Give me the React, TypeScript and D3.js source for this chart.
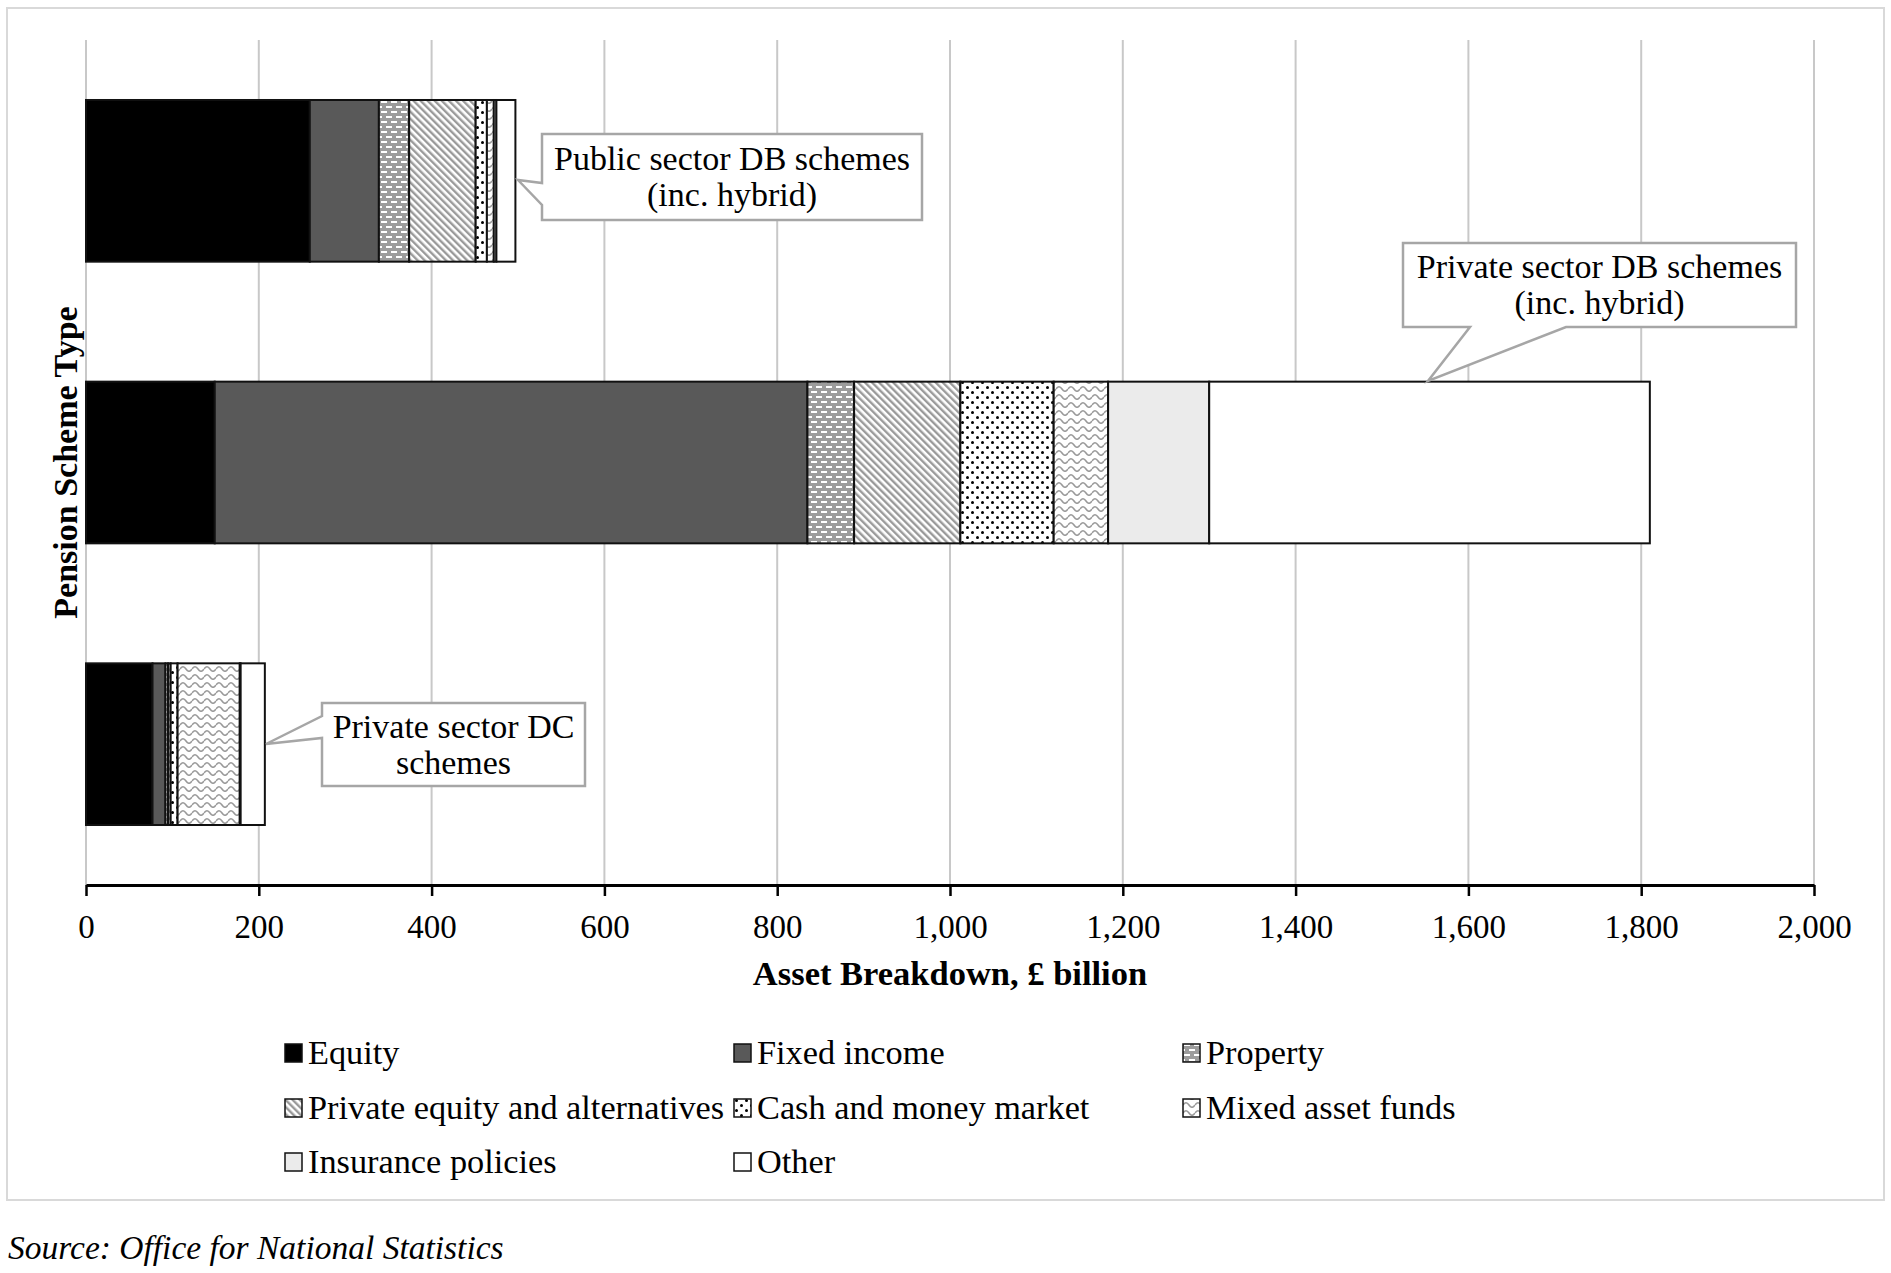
import React, { createRef, Component } from "react";
import * as d3 from "d3";

// Pension scheme asset breakdown, £ billion
const categories = [
  "Public sector DB schemes (inc. hybrid)",
  "Private sector DB schemes (inc. hybrid)",
  "Private sector DC schemes",
];
const assetClasses = [
  "Equity",
  "Fixed income",
  "Property",
  "Private equity and alternatives",
  "Cash and money market",
  "Mixed asset funds",
  "Insurance policies",
  "Other",
];
const equity = [259, 149, 77];
const fixedIncome = [80, 686, 15];
const property = [35, 54, 3];
const privateEquity = [77, 123, 3];
const cashMoney = [13, 108, 8];
const mixedFunds = [8, 63, 72];
const insurance = [3, 117, 1];
const other = [22, 510, 28];
const xTicks = [0, 200, 400, 600, 800, 1000, 1200, 1400, 1600, 1800, 2000];

const seriesValues = [equity, fixedIncome, property, privateEquity, cashMoney, mixedFunds, insurance, other];
const fills = [
  "#000000",
  "#595959",
  "url(#pat-property)",
  "url(#pat-pe)",
  "url(#pat-cash)",
  "url(#pat-mixed)",
  "#ebebeb",
  "#ffffff",
];

const W = 1891;
const H = 1273;
const FONT = "'Liberation Serif', 'Times New Roman', serif";

class App extends Component<{}, {}> {
  ref: any;

  constructor(props: any) {
    super(props);
    this.ref = createRef();
  }

  componentDidMount() {
    const svg = d3.select(this.ref.current);
    svg.selectAll("*").remove();

    const x = d3.scaleLinear().domain([0, 2000]).range([86, 1814]);
    const y = d3
      .scaleBand()
      .domain(categories)
      .range([40, 885])
      .paddingInner(0.426)
      .paddingOuter(0.213);

    // patterns
    const defs = svg.append("defs");
    const pProp = defs
      .append("pattern")
      .attr("id", "pat-property")
      .attr("patternUnits", "userSpaceOnUse")
      .attr("width", 10)
      .attr("height", 10);
    pProp.append("rect").attr("width", 10).attr("height", 10).attr("fill", "#9c9c9c");
    [[1, 1], [6, 6], [-4, 6]].forEach(([px, py]) => {
      pProp.append("rect").attr("x", px).attr("y", py).attr("width", 6).attr("height", 2).attr("fill", "#ffffff");
    });

    const pPe = defs
      .append("pattern")
      .attr("id", "pat-pe")
      .attr("patternUnits", "userSpaceOnUse")
      .attr("width", 5)
      .attr("height", 5)
      .attr("patternTransform", "rotate(-45)");
    pPe.append("rect").attr("width", 5).attr("height", 5).attr("fill", "#ffffff");
    pPe.append("rect").attr("width", 2.4).attr("height", 5).attr("fill", "#9a9a9a");

    const pCash = defs
      .append("pattern")
      .attr("id", "pat-cash")
      .attr("patternUnits", "userSpaceOnUse")
      .attr("width", 10)
      .attr("height", 10);
    pCash.append("rect").attr("width", 10).attr("height", 10).attr("fill", "#ffffff");
    pCash.append("circle").attr("cx", 2.5).attr("cy", 2.5).attr("r", 1.5).attr("fill", "#000");
    pCash.append("circle").attr("cx", 7.5).attr("cy", 7.5).attr("r", 1.5).attr("fill", "#000");

    const pMixed = defs
      .append("pattern")
      .attr("id", "pat-mixed")
      .attr("patternUnits", "userSpaceOnUse")
      .attr("width", 12)
      .attr("height", 8);
    pMixed.append("rect").attr("width", 12).attr("height", 8).attr("fill", "#ffffff");
    pMixed
      .append("path")
      .attr("d", "M0 5 Q3 0.5 6 5 T12 5")
      .attr("fill", "none")
      .attr("stroke", "#9a9a9a")
      .attr("stroke-width", 1.6);

    // outer frame
    svg
      .append("rect")
      .attr("x", 7)
      .attr("y", 8)
      .attr("width", 1877)
      .attr("height", 1192)
      .attr("fill", "#fff")
      .attr("stroke", "#d9d9d9")
      .attr("stroke-width", 2);

    // gridlines
    svg
      .append("g")
      .selectAll("line")
      .data(xTicks)
      .enter()
      .append("line")
      .attr("x1", (d) => x(d))
      .attr("x2", (d) => x(d))
      .attr("y1", 40)
      .attr("y2", 885)
      .attr("stroke", "#c8c8c8")
      .attr("stroke-width", 2);

    // stacked bars
    const rows = categories.map((c, i) => {
      const r: any = { category: c };
      assetClasses.forEach((a, j) => (r[a] = seriesValues[j][i]));
      return r;
    });
    const stacked = d3.stack().keys(assetClasses)(rows);
    const groups = svg
      .append("g")
      .selectAll("g.series")
      .data(stacked)
      .enter()
      .append("g")
      .attr("class", "series")
      .attr("fill", (d, i) => fills[i]);
    groups
      .selectAll("rect")
      .data((d: any) => d)
      .enter()
      .append("rect")
      .attr("x", (d: any) => x(d[0]))
      .attr("width", (d: any) => x(d[1]) - x(d[0]))
      .attr("y", (d: any) => y(d.data.category) as number)
      .attr("height", y.bandwidth())
      .attr("stroke", "#111")
      .attr("stroke-width", 2);

    // x axis
    const axis = svg
      .append("g")
      .attr("transform", "translate(0,885)")
      .call(
        d3
          .axisBottom(x)
          .tickValues(xTicks)
          .tickFormat(d3.format(",") as any)
          .tickSize(11)
          .tickSizeOuter(0)
      );
    axis.select(".domain").attr("stroke", "#000").attr("stroke-width", 3);
    axis.selectAll(".tick line").attr("stroke", "#000").attr("stroke-width", 2.5);
    axis
      .selectAll(".tick text")
      .attr("y", 30)
      .attr("fill", "#000")
      .style("font-family", FONT)
      .style("font-size", "33px");

    svg
      .append("text")
      .attr("x", (x(0) + x(2000)) / 2)
      .attr("y", 985)
      .attr("text-anchor", "middle")
      .style("font-family", FONT)
      .style("font-size", "34.5px")
      .style("font-weight", "bold")
      .text("Asset Breakdown, £ billion");

    svg
      .append("text")
      .attr("transform", `translate(77,${(40 + 885) / 2}) rotate(-90)`)
      .attr("text-anchor", "middle")
      .style("font-family", FONT)
      .style("font-size", "34px")
      .style("font-weight", "bold")
      .text("Pension Scheme Type");

    // callouts
    const callouts = [
      {
        lines: ["Public sector DB schemes", "(inc. hybrid)"],
        box: [542, 134, 922, 220],
        path: "M542,134 H922 V220 H542 V205 L518,180 L542,183 Z",
      },
      {
        lines: ["Private sector DB schemes", "(inc. hybrid)"],
        box: [1403, 243, 1796, 327],
        path: "M1403,243 H1796 V327 H1566 L1428,381 L1470,327 H1403 Z",
      },
      {
        lines: ["Private sector DC", "schemes"],
        box: [322, 703, 585, 786],
        path: "M322,703 H585 V786 H322 V738 L266,744 L322,716 Z",
      },
    ];
    const cg = svg.append("g").selectAll("g").data(callouts).enter().append("g");
    cg.append("path")
      .attr("d", (d) => d.path)
      .attr("fill", "#fff")
      .attr("stroke", "#a6a6a6")
      .attr("stroke-width", 2.5);
    cg.each(function (d) {
      const g = d3.select(this);
      const cx = (d.box[0] + d.box[2]) / 2;
      const cy = (d.box[1] + d.box[3]) / 2;
      d.lines.forEach((l, i) => {
        g.append("text")
          .attr("x", cx)
          .attr("y", cy - 18 + i * 36 + 11)
          .attr("text-anchor", "middle")
          .style("font-family", FONT)
          .style("font-size", "34px")
          .text(l);
      });
    });

    // legend
    const legCols = [285, 734, 1183];
    const legRows = [1053, 1108, 1162];
    const leg = svg
      .append("g")
      .selectAll("g")
      .data(assetClasses)
      .enter()
      .append("g")
      .attr("transform", (d, i) => `translate(${legCols[i % 3]},${legRows[Math.floor(i / 3)]})`);
    leg
      .append("rect")
      .attr("x", 0)
      .attr("y", -9)
      .attr("width", 17)
      .attr("height", 18)
      .attr("fill", (d, i) => fills[i])
      .attr("stroke", "#111")
      .attr("stroke-width", 1.5);
    leg
      .append("text")
      .attr("x", 23)
      .attr("y", 11)
      .style("font-family", FONT)
      .style("font-size", "34.3px")
      .text((d) => d);

    // source
    svg
      .append("text")
      .attr("x", 8)
      .attr("y", 1259)
      .style("font-family", FONT)
      .style("font-size", "33.5px")
      .style("font-style", "italic")
      .text("Source: Office for National Statistics");
  }

  render() {
    return (
      <svg
        ref={this.ref}
        width={W}
        height={H}
        style={{ position: "absolute", left: 0, top: 0, background: "#fff" }}
      />
    );
  }
}

export default App;
